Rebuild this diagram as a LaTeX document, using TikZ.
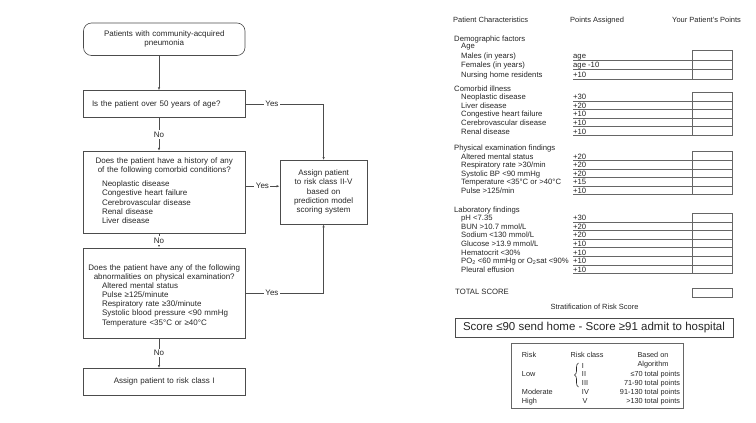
\documentclass[tikz,border=0pt]{standalone}
\usepackage{fontspec}
\setmainfont{Liberation Sans}
\usetikzlibrary{positioning,arrows.meta,decorations.pathreplacing}
\tikzstyle{flowbox}=[rectangle, draw=black!70, line width=0.6pt, text=black!85, minimum width=161.5pt,
text width=153.5pt, inner sep=4pt, font=\fontsize{8}{9.3}\selectfont]
\tikzstyle{startbox}=[flowbox, rounded corners=8pt, minimum height=32.5pt, align=center]
\tikzstyle{qbox}=[flowbox, minimum height=27pt]
\tikzstyle{abox}=[flowbox, minimum width=87.4pt, text width=79.4pt, minimum height=63.7pt, align=center]
\tikzstyle{line}=[-, draw=black!70, line width=0.6pt]
\tikzstyle{arrline}=[line, -{Latex[length=3pt,width=2.4pt]}]
\tikzstyle{lab}=[fill=white, inner sep=1.5pt, text=black!85, font=\fontsize{8}{9.3}\selectfont]
\tikzstyle{txt}=[anchor=base west, inner sep=0pt, text=black!85, font=\fontsize{7.5}{8.6}\selectfont]
\tikzstyle{grp}=[txt, font=\fontsize{7.7}{8.6}\selectfont]
\tikzstyle{formline}=[-, draw=black!60, line width=0.5pt]
\begin{document}
\begin{tikzpicture}[x=1pt, y=-1pt]
\useasboundingbox (0,0) rectangle (756,423);

% flow chart
    \node (start) [startbox] at (164.25,39.25) {Patients with community-acquired\\pneumonia};
    \node (q1) [qbox, align=left, below=34.5pt of start] {\hspace*{4.5pt}Is the patient over 50 years of age?};
    \node (q2) [qbox, align=center, minimum height=82pt, below=33pt of q1] {Does the patient have a history of any\\of the following comorbid conditions?\\[4.5pt]
      \makebox[153.5pt][l]{\hspace*{14.5pt}\begin{tabular}{@{}l@{}}Neoplastic disease\\Congestive heart failure\\Cerebrovascular disease\\Renal disease\\Liver disease\end{tabular}}};
    \node (q3) [qbox, align=center, minimum height=90pt, below=14pt of q2] {\rule{0pt}{13pt}Does the patient have any of the following\\abnormalities on physical examination?\\[-1pt]
      \makebox[153.5pt][l]{\hspace*{14.5pt}\begin{tabular}{@{}l@{}}Altered mental status\\Pulse ≥125/minute\\Respiratory rate ≥30/minute\\Systolic blood pressure <90 mmHg\\Temperature <35°C or ≥40°C\end{tabular}}};
    \node (fin) [qbox, align=center, below=30pt of q3] {Assign patient to risk class I};
    \node (assign) [abox, right=34.3pt of q2] {Assign patient\\to risk class II-V\\based on\\prediction model\\scoring system};

%Lines ..
   \draw[arrline] ([xshift=-5.25pt]start.south) -- ([xshift=-5.25pt]q1.north);
   \draw[arrline] ([xshift=-5.25pt]q1.south) -- ([xshift=-5.25pt]q2.north) node[lab, midway] {No};
   \draw[arrline] ([xshift=-5.25pt]q2.south) -- ([xshift=-5.25pt]q3.north) node[lab, midway] {No};
   \draw[arrline] ([xshift=-5.25pt]q3.south) -- ([xshift=-5.25pt]fin.north) node[lab, midway] {No};
   \draw[arrline] (q1.east) -| (assign.north) node[lab, pos=0.17] {Yes};
   \draw[arrline] ([yshift=6pt]q2.east) -- ([yshift=6pt]assign.west) node[lab, midway] {Yes};
   \draw[arrline] (q3.east) -| (assign.south) node[lab, pos=0.17] {Yes};

% score sheet
    \node (hchar) [txt] at (453,22.5) {Patient Characteristics};
    \node (hpts) [txt] at (570,22.5) {Points Assigned};
    \node (hyour) [txt] at (672,22.5) {Your Patient's Points};

    \node (demo) [grp, font=\fontsize{7.7}{9.5}\selectfont] at (454,41.5) {\begin{tabular}[t]{@{}p{119pt}@{}l@{}}Demographic factors&\\[-2pt]
      \hspace*{7pt}Age&\\ \hspace*{7pt}Males (in years)&age\\ \hspace*{7pt}Females (in years)&age -10\\ \hspace*{7pt}Nursing home residents&+10\end{tabular}};
    \node (comorb) [grp] at (454,91.1) {\begin{tabular}[t]{@{}p{119pt}@{}l@{}}Comorbid illness&\\
      \hspace*{7pt}Neoplastic disease&+30\\ \hspace*{7pt}Liver disease&+20\\ \hspace*{7pt}Congestive heart failure&+10\\
      \hspace*{7pt}Cerebrovascular disease&+10\\ \hspace*{7pt}Renal disease&+10\end{tabular}};
    \node (phys) [grp] at (454,150.5) {\begin{tabular}[t]{@{}p{119pt}@{}l@{}}Physical examination findings&\\
      \hspace*{7pt}Altered mental status&+20\\ \hspace*{7pt}Respiratory rate >30/min&+20\\ \hspace*{7pt}Systolic BP <90 mmHg&+20\\
      \hspace*{7pt}Temperature <35°C or >40°C&+15\\ \hspace*{7pt}Pulse >125/min&+10\end{tabular}};
    \node (lab) [grp] at (454,212.1) {\begin{tabular}[t]{@{}p{119pt}@{}l@{}}Laboratory findings&\\
      \hspace*{7pt}pH <7.35&+30\\ \hspace*{7pt}BUN >10.7 mmol/L&+20\\ \hspace*{7pt}Sodium <130 mmol/L&+20\\
      \hspace*{7pt}Glucose >13.9 mmol/L&+10\\ \hspace*{7pt}Hematocrit <30\%&+10\\
      \hspace*{7pt}PO\textsubscript{2} <60 mmHg or O\textsubscript{2}sat <90\%&+10\\ \hspace*{7pt}Pleural effusion&+10\end{tabular}};

% point boxes and underlines
\draw[formline] (692,50.4) rectangle (732,78.9);
\draw[formline] (573,59.9) -- (732,59.9) (573,69.4) -- (732,69.4) (573,78.9) -- (692,78.9);
\draw[formline] (692,92.3) rectangle (732,135.3);
\draw[formline] (573,100.9) -- (732,100.9) (573,109.5) -- (732,109.5) (573,118.1) -- (732,118.1)
  (573,126.7) -- (732,126.7) (573,135.3) -- (692,135.3);
\draw[formline] (692,151.7) rectangle (732,194.7);
\draw[formline] (573,160.3) -- (732,160.3) (573,168.9) -- (732,168.9) (573,177.5) -- (732,177.5)
  (573,186.1) -- (732,186.1) (573,194.7) -- (692,194.7);
\draw[formline] (692,213.3) rectangle (732,273.5);
\draw[formline] (573,221.9) -- (732,221.9) (573,230.5) -- (732,230.5) (573,239.1) -- (732,239.1)
  (573,247.7) -- (732,247.7) (573,256.3) -- (732,256.3) (573,264.9) -- (732,264.9) (573,273.5) -- (692,273.5);

    \node (htot) [grp] at (455,294.5) {TOTAL SCORE};
    \node (totbox) [draw=black!60, line width=0.5pt, minimum width=40pt, minimum height=9pt, inner sep=0pt] at (712,292.5) {};
    \node (strat) [txt, anchor=center] at (594.5,306.7) {Stratification of Risk Score};
    \node (send) [draw=black!70, line width=0.6pt, minimum width=278pt, minimum height=19pt, inner sep=0pt,
      text=black!85, font=\fontsize{11.5}{13}\selectfont] at (594,327.5) {Score ≤90 send home - Score ≥91 admit to hospital};
    \node (risktab) [draw=black!60, line width=0.5pt, minimum width=172pt, minimum height=65pt, inner sep=0pt,
      text=black!85, font=\fontsize{7.3}{8.8}\selectfont] at (597,375.5) {\begin{tabular}{@{\hspace{8pt}}p{46pt}@{\hspace{2.7pt}}p{49.3pt}@{}r@{}}
      \rule{0pt}{12.2pt}Risk&Risk class&\multicolumn{1}{c@{}}{Based on}\\
      &\hspace*{11.3pt}\raisebox{-2.5pt}{I}&\multicolumn{1}{c@{}}{Algorithm}\\[2pt]
      Low&\hspace*{11.3pt}II&≤70 total points\\
      &\hspace*{11.3pt}III&71-90 total points\\
      Moderate&\hspace*{11.3pt}IV&91-130 total points\\
      High&\hspace*{12pt}V&>130 total points\end{tabular}};
\draw[line, draw=black!85, decorate, decoration={brace, amplitude=4pt}] (578.5,387) -- (578.5,363);

\end{tikzpicture}
\end{document}
